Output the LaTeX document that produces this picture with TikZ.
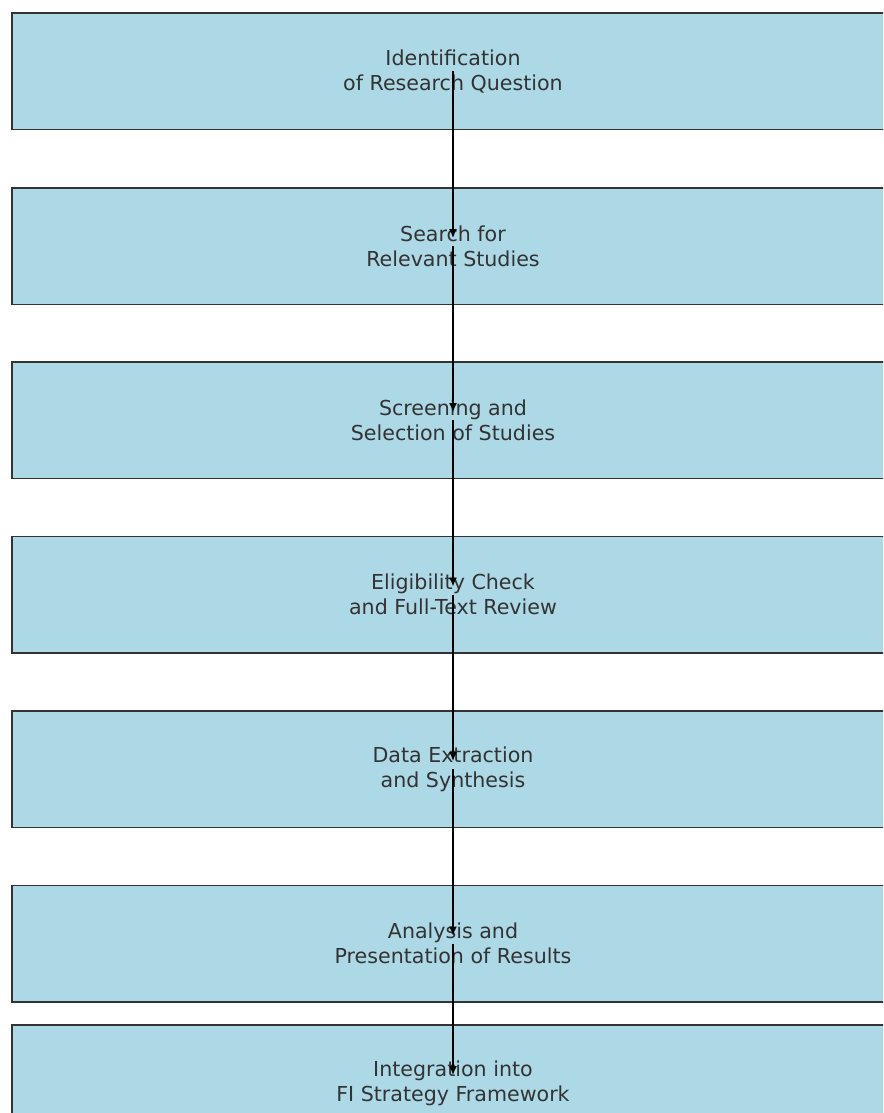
\documentclass[tikz,border=0pt]{standalone}
\usepackage{fontspec}
\setmainfont{DejaVu Sans}
\usetikzlibrary{positioning, arrows.meta}
\definecolor{stageblue}{HTML}{ADD8E6}
\definecolor{stageedge}{HTML}{333333}
\definecolor{stagetext}{HTML}{333333}

\begin{document}
\begin{tikzpicture}[x=1pt, y=-1pt,
    stage/.style={draw=stageedge, fill=stageblue, line width=1.5pt, rectangle,
      minimum width=882pt, minimum height=116.5pt, align=center, text=stagetext,
      font=\fontsize{20.6}{25}\selectfont},
    flow/.style={-{Latex[length=9pt,width=8pt]}, line width=1.5pt, black, shorten >=8pt}]
        \useasboundingbox (0,0) rectangle (883,1113);
        \clip (0,0) rectangle (883,1113);
        \node[stage] (question) at (453,71.5) {Identification\\of Research Question};
        \node[stage] (search) at (453,246) {Search for\\Relevant Studies};
        \node[stage] (screening) at (453,420) {Screening and\\Selection of Studies};
        \node[stage] (eligibility) at (453,594.5) {Eligibility Check\\and Full-Text Review};
        \node[stage] (extraction) at (453,769) {Data Extraction\\and Synthesis};
        \node[stage] (analysis) at (453,943.5) {Analysis and\\Presentation of Results};
        \node[stage] (integration) at (453,1083) {Integration into\\FI Strategy Framework};
        \draw[flow] (question.center)--(search.center);
        \draw[flow] (search.center)--(screening.center);
        \draw[flow] (screening.center)--(eligibility.center);
        \draw[flow] (eligibility.center)--(extraction.center);
        \draw[flow] (extraction.center)--(analysis.center);
        \draw[flow] (analysis.center)--(integration.center);
      \end{tikzpicture}
\end{document}
